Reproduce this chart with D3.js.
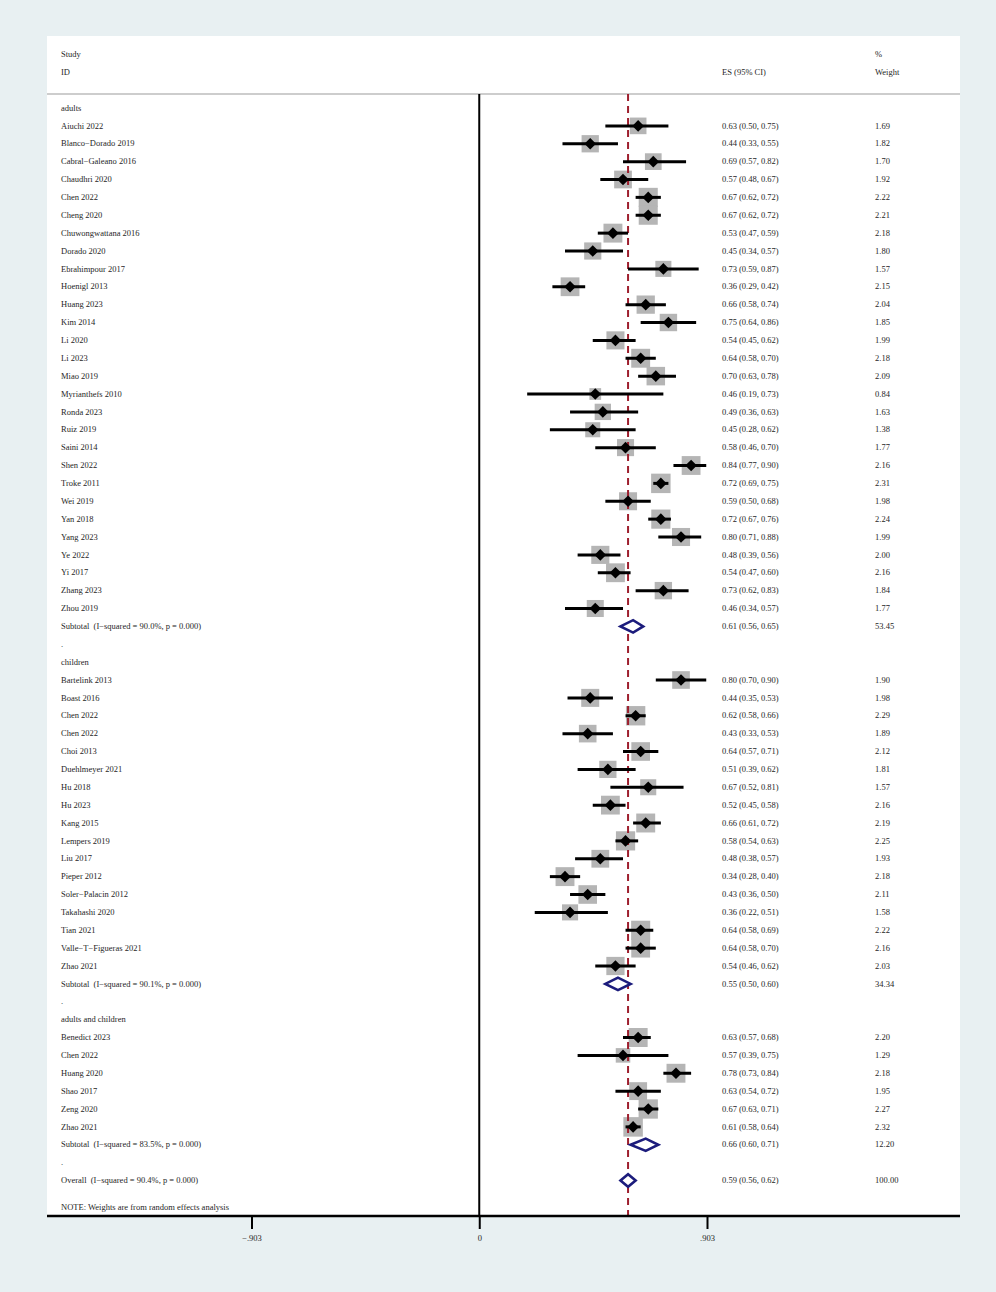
<!DOCTYPE html>
<meta charset="utf-8">
<script src="https://cdn.jsdelivr.net/npm/d3@7"></script>
<style type="text/css">
    body { margin: 0; }
    text {
        font-family: "Liberation Serif", "Times New Roman", serif;
        font-size: 8.5px;
        fill: #262626;
        white-space: pre;
    }
</style>
<body>
<script>
    // ---- data ----
    var groupNames = ["adults", "children", "adults and children"];
    var groupSizes = [28, 17, 6];

    var studyNames = [
        "Aiuchi 2022", "Blanco\u2212Dorado 2019", "Cabral\u2212Galeano 2016", "Chaudhri 2020", "Chen 2022",
        "Cheng 2020", "Chuwongwattana 2016", "Dorado 2020", "Ebrahimpour 2017", "Hoenigl 2013",
        "Huang 2023", "Kim 2014", "Li 2020", "Li 2023", "Miao 2019", "Myrianthefs 2010", "Ronda 2023",
        "Ruiz 2019", "Saini 2014", "Shen 2022", "Troke 2011", "Wei 2019", "Yan 2018", "Yang 2023",
        "Ye 2022", "Yi 2017", "Zhang 2023", "Zhou 2019",
        "Bartelink 2013", "Boast 2016", "Chen 2022", "Chen 2022", "Choi 2013", "Duehlmeyer 2021",
        "Hu 2018", "Hu 2023", "Kang 2015", "Lempers 2019", "Liu 2017", "Pieper 2012",
        "Soler\u2212Palacin 2012", "Takahashi 2020", "Tian 2021", "Valle\u2212T\u2212Figueras 2021", "Zhao 2021",
        "Benedict 2023", "Chen 2022", "Huang 2020", "Shao 2017", "Zeng 2020", "Zhao 2021"
    ];
    var studyES = [
        0.63, 0.44, 0.69, 0.57, 0.67, 0.67, 0.53, 0.45, 0.73, 0.36, 0.66, 0.75, 0.54, 0.64,
        0.70, 0.46, 0.49, 0.45, 0.58, 0.84, 0.72, 0.59, 0.72, 0.80, 0.48, 0.54, 0.73, 0.46,
        0.80, 0.44, 0.62, 0.43, 0.64, 0.51, 0.67, 0.52, 0.66, 0.58, 0.48, 0.34, 0.43, 0.36,
        0.64, 0.64, 0.54,
        0.63, 0.57, 0.78, 0.63, 0.67, 0.61
    ];
    var studyLower = [
        0.50, 0.33, 0.57, 0.48, 0.62, 0.62, 0.47, 0.34, 0.59, 0.29, 0.58, 0.64, 0.45, 0.58,
        0.63, 0.19, 0.36, 0.28, 0.46, 0.77, 0.69, 0.50, 0.67, 0.71, 0.39, 0.47, 0.62, 0.34,
        0.70, 0.35, 0.58, 0.33, 0.57, 0.39, 0.52, 0.45, 0.61, 0.54, 0.38, 0.28, 0.36, 0.22,
        0.58, 0.58, 0.46,
        0.57, 0.39, 0.73, 0.54, 0.63, 0.58
    ];
    var studyUpper = [
        0.75, 0.55, 0.82, 0.67, 0.72, 0.72, 0.59, 0.57, 0.87, 0.42, 0.74, 0.86, 0.62, 0.70,
        0.78, 0.73, 0.63, 0.62, 0.70, 0.90, 0.75, 0.68, 0.76, 0.88, 0.56, 0.60, 0.83, 0.57,
        0.90, 0.53, 0.66, 0.53, 0.71, 0.62, 0.81, 0.58, 0.72, 0.63, 0.57, 0.40, 0.50, 0.51,
        0.69, 0.70, 0.62,
        0.68, 0.75, 0.84, 0.72, 0.71, 0.64
    ];
    var studyWeight = [
        1.69, 1.82, 1.70, 1.92, 2.22, 2.21, 2.18, 1.80, 1.57, 2.15, 2.04, 1.85, 1.99, 2.18,
        2.09, 0.84, 1.63, 1.38, 1.77, 2.16, 2.31, 1.98, 2.24, 1.99, 2.00, 2.16, 1.84, 1.77,
        1.90, 1.98, 2.29, 1.89, 2.12, 1.81, 1.57, 2.16, 2.19, 2.25, 1.93, 2.18, 2.11, 1.58,
        2.22, 2.16, 2.03,
        2.20, 1.29, 2.18, 1.95, 2.27, 2.32
    ];

    var subtotalI2 = ["90.0", "90.1", "83.5"];
    var subtotalES = [0.61, 0.55, 0.66];
    var subtotalLower = [0.56, 0.50, 0.60];
    var subtotalUpper = [0.65, 0.60, 0.71];
    var subtotalWeight = ["53.45", "34.34", "12.20"];

    var overallI2 = "90.4";
    var overallES = 0.59, overallLower = 0.56, overallUpper = 0.62, overallWeight = "100.00";

    var tickValues = [-0.903, 0, 0.903];
    var tickLabels = ["\u2212.903", "0", ".903"];

    // ---- layout ----
    var W = 996, H = 1292;
    var panel = {left: 47, right: 960, top: 36, bottom: 1216};
    var headLine = 94;
    var labelX = 61, esX = 722, weightX = 875;

    var fmt = d3.format(".2f");
    function ciText(e, l, u) {
        return fmt(e) + " (" + fmt(l) + ", " + fmt(u) + ")";
    }

    // build row list
    var rows = [], k = 0;
    groupNames.forEach(function(g, gi) {
        rows.push({type: "group", label: g});
        for (var j = 0; j < groupSizes[gi]; j++, k++) {
            rows.push({type: "study", label: studyNames[k], es: studyES[k], lo: studyLower[k],
                hi: studyUpper[k], w: studyWeight[k]});
        }
        rows.push({type: "sub", label: "Subtotal  (I\u2212squared = " + subtotalI2[gi] + "%, p = 0.000)",
            es: subtotalES[gi], lo: subtotalLower[gi], hi: subtotalUpper[gi], wt: subtotalWeight[gi]});
        rows.push({type: "dot", label: "."});
    });
    rows.push({type: "sub", label: "Overall  (I\u2212squared = " + overallI2 + "%, p = 0.000)",
        es: overallES, lo: overallLower, hi: overallUpper, wt: overallWeight});
    rows.forEach(function(r, i) { r.i = i; });

    var xScale = d3.scaleLinear().domain([-0.903, 0.903]).range([251.5, 707]);
    var yScale = d3.scaleLinear().domain([0, rows.length - 1]).range([108, 1180.5]);

    var svg = d3.select("body")
        .append("svg")
        .attr("width", W)
        .attr("height", H);

    // background + white plot panel
    svg.append("rect").attr("width", W).attr("height", H).attr("fill", "#e8f0f2");
    svg.append("rect")
        .attr("x", panel.left).attr("y", panel.top)
        .attr("width", panel.right - panel.left).attr("height", panel.bottom - panel.top)
        .attr("fill", "#fff");

    // header
    svg.append("text").attr("x", labelX).attr("y", 54).attr("dy", "0.32em").text("Study");
    svg.append("text").attr("x", labelX).attr("y", 72).attr("dy", "0.32em").text("ID");
    svg.append("text").attr("x", esX).attr("y", 72).attr("dy", "0.32em").text("ES (95% CI)");
    svg.append("text").attr("x", weightX).attr("y", 54).attr("dy", "0.32em").text("%");
    svg.append("text").attr("x", weightX).attr("y", 72).attr("dy", "0.32em").text("Weight");

    svg.append("line")
        .attr("x1", panel.left).attr("x2", panel.right)
        .attr("y1", headLine).attr("y2", headLine)
        .attr("stroke", "#bdbdbd").attr("stroke-width", 1.5);

    var studies = rows.filter(function(r) { return r.type === "study"; });
    var subs = rows.filter(function(r) { return r.type === "sub"; });

    // weight boxes (area ~ weight)
    svg.selectAll(".box")
        .data(studies)
        .enter()
        .append("rect")
        .attr("class", "box")
        .attr("x", function(d) { return xScale(d.es) - 6.4 * Math.sqrt(d.w); })
        .attr("y", function(d) { return yScale(d.i) - 6.4 * Math.sqrt(d.w); })
        .attr("width", function(d) { return 12.8 * Math.sqrt(d.w); })
        .attr("height", function(d) { return 12.8 * Math.sqrt(d.w); })
        .attr("fill", "#b5b5b5");

    // no-effect line
    svg.append("line")
        .attr("x1", xScale(0)).attr("x2", xScale(0))
        .attr("y1", headLine).attr("y2", panel.bottom)
        .attr("stroke", "#000").attr("stroke-width", 2);

    // overall effect line
    svg.append("line")
        .attr("x1", xScale(overallES)).attr("x2", xScale(overallES))
        .attr("y1", headLine).attr("y2", panel.bottom)
        .attr("stroke", "#9e1f2e").attr("stroke-width", 2)
        .attr("stroke-dasharray", "7,5");

    // confidence intervals
    svg.selectAll(".ci")
        .data(studies)
        .enter()
        .append("line")
        .attr("class", "ci")
        .attr("x1", function(d) { return xScale(d.lo); })
        .attr("x2", function(d) { return xScale(d.hi); })
        .attr("y1", function(d) { return yScale(d.i); })
        .attr("y2", function(d) { return yScale(d.i); })
        .attr("stroke", "#000").attr("stroke-width", 3);

    // point estimates
    svg.selectAll(".pt")
        .data(studies)
        .enter()
        .append("path")
        .attr("class", "pt")
        .attr("d", function(d) {
            var cx = xScale(d.es), cy = yScale(d.i), r = 5.8;
            return "M" + (cx - r) + "," + cy + "L" + cx + "," + (cy - r) +
                "L" + (cx + r) + "," + cy + "L" + cx + "," + (cy + r) + "Z";
        })
        .attr("fill", "#000");

    // pooled diamonds
    svg.selectAll(".pool")
        .data(subs)
        .enter()
        .append("path")
        .attr("class", "pool")
        .attr("d", function(d) {
            var cy = yScale(d.i), h = 6.2;
            return "M" + xScale(d.lo) + "," + cy + "L" + xScale(d.es) + "," + (cy - h) +
                "L" + xScale(d.hi) + "," + cy + "L" + xScale(d.es) + "," + (cy + h) + "Z";
        })
        .attr("fill", "#fff")
        .attr("stroke", "#1c1c7c")
        .attr("stroke-width", 2.6);

    // row labels
    svg.selectAll(".lab")
        .data(rows)
        .enter()
        .append("text")
        .attr("class", "lab")
        .attr("x", labelX)
        .attr("y", function(d) { return yScale(d.i); })
        .attr("dy", "0.32em")
        .text(function(d) { return d.label; });

    var numRows = rows.filter(function(r) { return r.type === "study" || r.type === "sub"; });
    svg.selectAll(".es")
        .data(numRows)
        .enter()
        .append("text")
        .attr("class", "es")
        .attr("x", esX)
        .attr("y", function(d) { return yScale(d.i); })
        .attr("dy", "0.32em")
        .text(function(d) { return ciText(d.es, d.lo, d.hi); });

    svg.selectAll(".wt")
        .data(numRows)
        .enter()
        .append("text")
        .attr("class", "wt")
        .attr("x", weightX)
        .attr("y", function(d) { return yScale(d.i); })
        .attr("dy", "0.32em")
        .text(function(d) { return d.type === "study" ? fmt(d.w) : d.wt; });

    svg.append("text")
        .attr("x", labelX)
        .attr("y", yScale(rows.length - 1 + 1.5))
        .attr("dy", "0.32em")
        .text("NOTE: Weights are from random effects analysis");

    // x axis
    var axis = svg.append("g")
        .attr("transform", "translate(0," + panel.bottom + ")")
        .call(d3.axisBottom(xScale)
            .tickValues(tickValues)
            .tickSize(13)
            .tickPadding(6)
            .tickFormat(function(d, i) { return tickLabels[i]; }));
    axis.select(".domain").remove();
    axis.selectAll(".tick line").attr("stroke", "#000").attr("stroke-width", 2);
    axis.selectAll(".tick text")
        .style("font-family", "'Liberation Serif', serif")
        .style("font-size", "8.5px")
        .attr("fill", "#262626");

    svg.append("line")
        .attr("x1", panel.left).attr("x2", panel.right)
        .attr("y1", panel.bottom).attr("y2", panel.bottom)
        .attr("stroke", "#000").attr("stroke-width", 2.5);
</script>
</body>
